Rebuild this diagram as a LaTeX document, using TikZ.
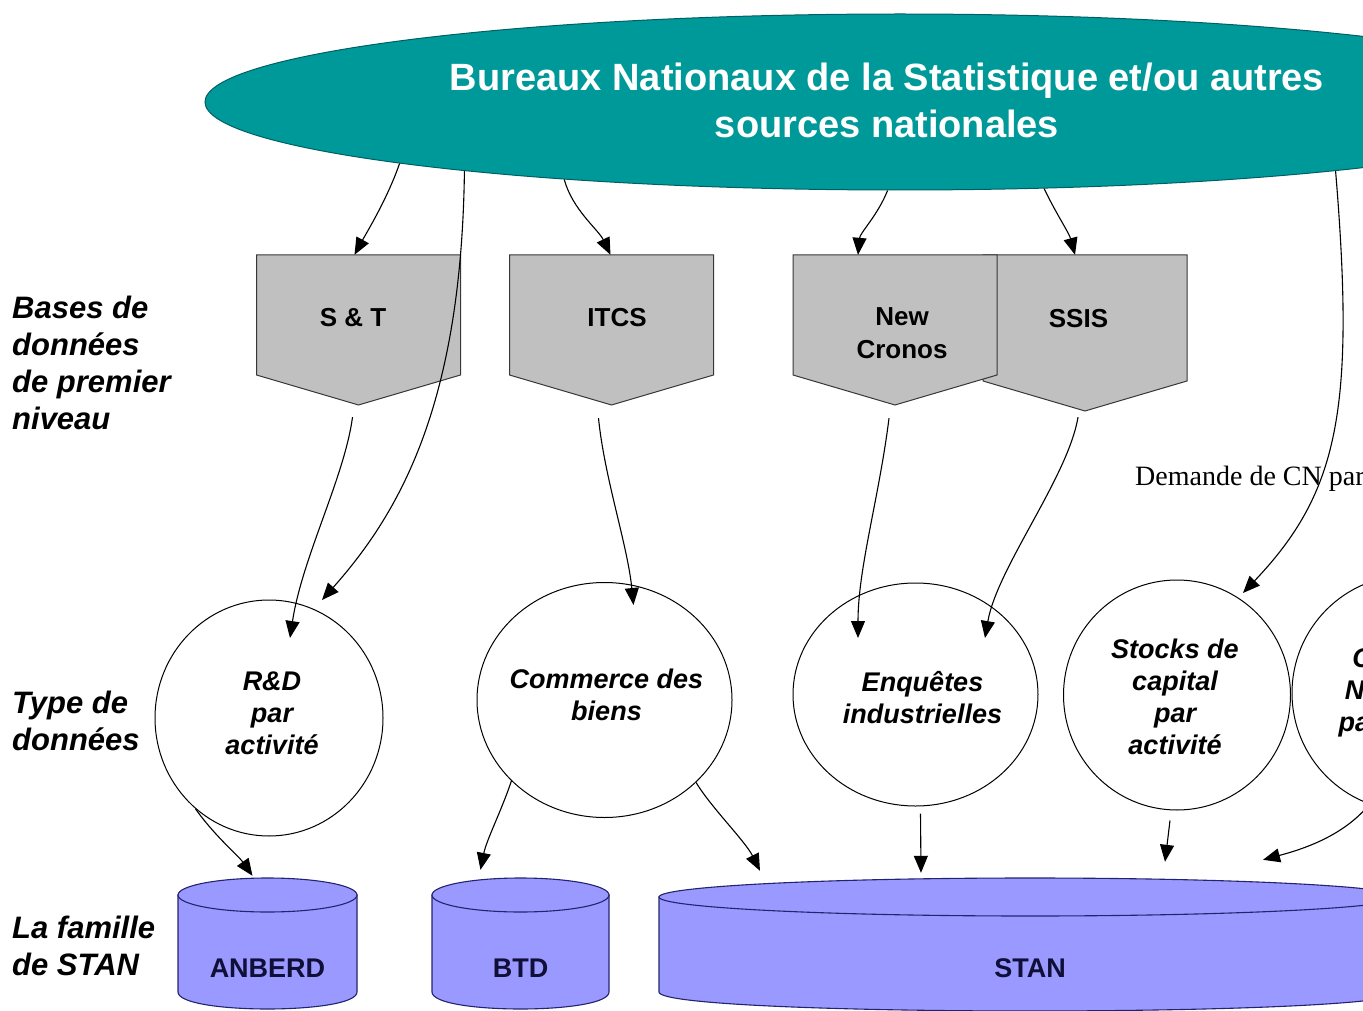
\documentclass[tikz,border=0pt]{standalone}
\usepackage{fontspec}
\setmainfont{Liberation Sans}
\newfontfamily\serifcn{Liberation Serif}
\usetikzlibrary{arrows.meta,shapes.geometric,calc}

\definecolor{bnsteal}{RGB}{0,153,153}
\definecolor{bnsedge}{RGB}{0,95,100}
\definecolor{basegray}{RGB}{192,192,192}
\definecolor{baseedge}{RGB}{55,55,55}
\definecolor{dbblue}{RGB}{153,153,255}
\definecolor{dbedge}{RGB}{35,35,110}
\definecolor{dbink}{RGB}{15,15,55}

\tikzset{
  flow/.style={-{Triangle[length=17pt,width=14pt]}, line width=1.1pt},
  bnsnode/.style={ellipse, fill=bnsteal, draw=bnsedge, line width=1pt,
    minimum width=1390, minimum height=176, inner sep=0pt},
  bnstext/.style={text=white, align=center, inner sep=0pt,
    font=\bfseries\fontsize{38}{47}\selectfont},
  basefill/.style={fill=basegray, draw=baseedge, line width=1pt},
  basenode/.style={rectangle, minimum width=204, inner sep=0pt},
  basetext/.style={align=center, inner sep=0pt, font=\bfseries\fontsize{26}{33}\selectfont},
  datatype/.style={ellipse, draw, line width=1pt, fill=white, inner sep=0pt},
  circtext/.style={align=center, inner sep=0pt, font=\bfseries\itshape\fontsize{27}{32}\selectfont},
  dbfill/.style={fill=dbblue, draw=dbedge, line width=1.1pt},
  dbnode/.style={rectangle, minimum height=130, inner sep=0pt},
  dbtext/.style={text=dbink, inner sep=0pt, yshift=-24pt, font=\bfseries\fontsize{27}{32}\selectfont},
  rowlabel/.style={anchor=north west, align=left, inner sep=0pt,
    font=\bfseries\itshape\fontsize{31}{37}\selectfont},
  cntext/.style={inner sep=0pt, font=\serifcn\fontsize{28}{32}\selectfont}
}

% first level data base: name, centre x, tip y, text, label options
\newcommand{\basebox}[5]{%
  \path[basefill] (#2-102,255) -- (#2+102,255) -- (#2+102,#3-30) -- (#2,#3) -- (#2-102,#3-30) -- cycle;
  \node[basenode, minimum height={#3-255}, label={[basetext,#5]center:#4}] (#1) at (#2,{(255+#3)/2}) {};
}
% STAN family cylinder: name, centre x, half width, y radius, text
\newcommand{\dbcyl}[5]{%
  \path[dbfill] (#2-#3,878+#4) -- (#2-#3,992) .. controls (#2-#3,{992+1.333*#4}) and (#2+#3,{992+1.333*#4}) .. (#2+#3,992) -- (#2+#3,878+#4) -- cycle;
  \path[dbfill] (#2,878+#4) ellipse [x radius=#3, y radius=#4];
  \node[dbnode, minimum width={2*#3}, label={[dbtext]center:#5}] (#1) at (#2,944) {};
}

\begin{document}
\begin{tikzpicture}[x=1pt,y=-1pt]
  \useasboundingbox (0,0) rectangle (1363,1011);
  \clip (0,0) rectangle (1363,1011);

  % sources
  \node[bnsnode] (bns) at (900,102) {};
  \node[bnstext] (bns-t) at (887,100) {Bureaux Nationaux de la Statistique et/ou autres\\sources nationales};

  % row labels
  \node[rowlabel] (lbl-base) at (12,296) {Bases de\\données\\de premier\\niveau};
  \node[rowlabel] (lbl-type) at (12,691) {Type de\\données};
  \node[rowlabel] (lbl-stan) at (12,916) {La famille\\de STAN};

  % first level data bases
  \basebox{st}{358.5}{405}{S \& T}{xshift=-5.5pt,yshift=12.5pt}
  \basebox{itcs}{611.5}{405}{ITCS}{xshift=5.5pt,yshift=12.5pt}
  \basebox{ssis}{1085}{411}{SSIS}{xshift=-6.5pt,yshift=14pt}
  \basebox{nc}{895}{405}{New\\Cronos}{xshift=7pt,yshift=-3.5pt}

  % data types
  \node[datatype, minimum width=228, minimum height=236,
    label={[circtext,xshift=3pt,yshift=5pt]center:R\&D\\par\\activité}] (rd) at (269,718) {};
  \node[datatype, minimum width=255, minimum height=235,
    label={[circtext,xshift=2pt,yshift=5pt]center:Commerce des\\biens}] (cmb) at (604.5,700) {};
  \node[datatype, minimum width=245, minimum height=223,
    label={[circtext,xshift=7pt,yshift=-3pt]center:Enquêtes\\industrielles}] (enq) at (915.5,694.5) {};
  \node[datatype, minimum width=227, minimum height=230,
    label={[circtext,xshift=-2pt,yshift=-2pt]center:Stocks de\\capital\\par\\activité}] (stk) at (1177,695) {};
  \node[datatype, minimum width=236, minimum height=236,
    label={[circtext]center:Comptes\\Nationaux\\par activité}] (cna) at (1410,693) {};

  \node[cntext, anchor=base west] (cn-demand) at (1135,485) {Demande de CN par};

  % STAN family
  \dbcyl{anberd}{267.5}{89.5}{17}{ANBERD}
  \dbcyl{btd}{520.5}{88.5}{17}{BTD}
  \dbcyl{stan}{1030}{371}{19}{STAN}

  \coordinate (rd-in1) at ($(rd)+(21,-80)$);
  \coordinate (rd-in2) at ($(rd)+(53,-118)$);
  \coordinate (cmb-in) at ($(cmb)+(29,-95)$);
  \coordinate (enq-in1) at ($(enq)+(-57.5,-56.5)$);
  \coordinate (enq-in2) at ($(enq)+(69.5,-56.5)$);
  \coordinate (stk-in) at ($(stk)+(66,-102)$);
  \coordinate (cna-in) at ($(cna)+(30,-116)$);

  % sources -> data bases
  \draw[flow] (bns.187) .. controls +(-12,35) and +(12,-22) .. ($(st.north)+(-4,0)$);
  \draw[flow] (bns.193.5) .. controls +(8,30) and +(-12,-25) .. ($(itcs.north)+(-1,0)$);
  \draw[flow] (bns.262.2) .. controls +(-10,25) and +(2,-22) .. ($(nc.north)+(-37,0)$);
  \draw[flow] (bns.329.3) .. controls +(12,25) and +(-6,-22) .. ($(ssis.north)+(-10,0)$);
  \draw[flow] (bns.189.4) .. controls +(-3,230) and +(80,-90) .. (rd-in2);
  \draw[flow] (bns.351.8) .. controls +(20,240) and +(95,-100) .. (stk-in);
  \draw[flow] (bns.352.8) .. controls +(6,200) and +(40,-80) .. (cna-in);

  % data bases -> data types
  \draw[flow] ($(st.south)+(-6,12)$) .. controls +(-8,60) and +(12,-80) .. (rd-in1);
  \draw[flow] ($(itcs.south)+(-13,13)$) .. controls +(6,60) and +(-6,-60) .. (cmb-in);
  \draw[flow] ($(nc.south)+(-6,13)$) .. controls +(-10,80) and +(0,-70) .. (enq-in1);
  \draw[flow] ($(ssis.south)+(-7,6)$) .. controls +(-10,60) and +(12,-70) .. (enq-in2);

  % data types -> STAN family
  \draw[flow] (rd.231) .. controls +(20,28) and +(-14,-20) .. ($(anberd.north)+(-15,-3)$);
  \draw[flow] (cmb.221.5) .. controls +(-10,30) and +(6,-30) .. ($(btd.north)+(-40,-9)$);
  \draw[flow] (cmb.318.5) .. controls +(15,25) and +(-15,-30) .. ($(stan.north)+(-270,-8)$);
  \draw[flow] ($(enq.south)+(5,7)$) -- ($(stan.north)+(-109,-6)$);
  \draw[flow] ($(stk.south)+(-7,10)$) -- ($(stan.north)+(135,-17)$);
  \draw[flow] (cna.250) .. controls +(-25,30) and +(45,-12) .. ($(stan.north)+(233,-19)$);
\end{tikzpicture}
\end{document}
